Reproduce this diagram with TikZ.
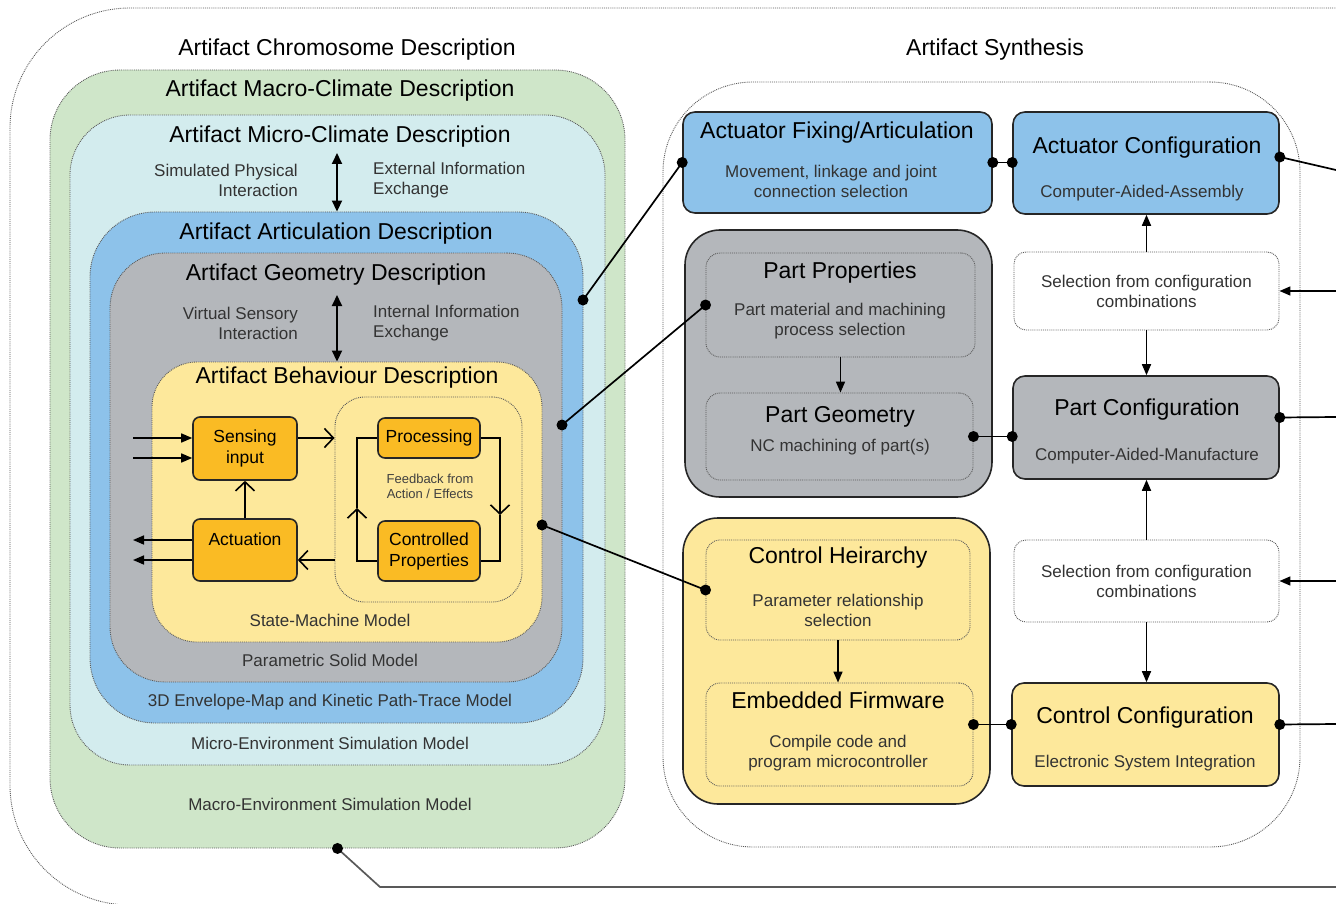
\documentclass[tikz,border=0pt]{standalone}
\usepackage{fontspec}
\setmainfont{Liberation Sans}
\usetikzlibrary{arrows.meta, calc}

\definecolor{macrogreen}{HTML}{CFE6C9}
\definecolor{microcyan}{HTML}{D3ECEE}
\definecolor{articblue}{HTML}{8DC2EA}
\definecolor{geomgrey}{HTML}{B4B7BB}
\definecolor{behavyellow}{HTML}{FDE89B}
\definecolor{stateorange}{HTML}{FABB24}

\begin{document}
\begin{tikzpicture}[x=1pt, y=-1pt,
  zone/.style={draw=black!65, densely dotted, line width=0.9pt, rounded corners=#1},
  panel/.style={draw=black!85, line width=1.6pt, rounded corners=#1},
  sz/.style 2 args={minimum width=#1, minimum height=#2, inner sep=0pt},
  headtxt/.style={font=\fontsize{23}{26}\selectfont, inner sep=0pt},
  subtxt/.style={font=\fontsize{17}{20}\selectfont, text=black!80, inner sep=0pt, align=center},
  note/.style={font=\fontsize{13}{15}\selectfont, text=black!75, inner sep=0pt, align=center},
  statebox/.style={panel=7pt, fill=stateorange, font=\fontsize{17.5}{21}\selectfont, align=center},
  wire/.style={line width=1.7pt},
  fillarr/.style={line width=1.6pt, -{Triangle[length=11pt, width=9pt]}},
  botharr/.style={line width=1.8pt, {Triangle[length=11pt, width=10pt]}-{Triangle[length=11pt, width=10pt]}},
  openarr/.style={line width=1.6pt, -{Straight Barb[length=9pt, width=19pt]}},
]
  \useasboundingbox (0,0) rectangle (1336,904);
  \clip (0,0) rectangle (1336,904);

  % Outer frames
  \draw[zone=120pt] (10,8) rectangle (1500,905);
  \node[zone=90pt, sz={637pt}{765pt}] (synth) at (981.5,464.5) {};

  % Nested descriptions
  \node[zone=70pt, fill=macrogreen, sz={575pt}{778pt}] (macro) at (337.5,459) {};
  \node[zone=60pt, fill=microcyan, sz={535pt}{650pt}] (micro) at (337.5,440) {};
  \node[zone=65pt, fill=articblue, sz={493pt}{511pt}] (artic) at (336.5,467.5) {};
  \node[zone=55pt, fill=geomgrey, sz={452pt}{429pt}] (geom) at (336,467.5) {};
  \node[zone=45pt, fill=behavyellow, sz={390pt}{280pt}] (behav) at (347,502) {};
  \node[zone=30pt, fill=behavyellow, sz={187pt}{205pt}] (fbloop) at (428.5,499.5) {};

  \node[headtxt] (chromT) at (347,50) {Artifact Chromosome Description};
  \node[headtxt] (macroT) at (340,91) {Artifact Macro-Climate Description};
  \node[headtxt] (microT) at (340,137) {Artifact Micro-Climate Description};
  \node[headtxt] (articT) at (336,234) {Artifact Articulation Description};
  \node[headtxt] (geomT) at (336,275) {Artifact Geometry Description};
  \node[headtxt] (behavT) at (347,378) {Artifact Behaviour Description};

  % Interaction labels
  \node[subtxt, align=right, anchor=east] (physL) at (298,180) {Simulated Physical\\Interaction};
  \node[subtxt, align=left, anchor=west] (extR) at (373,180) {External Information\\Exchange};
  \node[subtxt, align=right, anchor=east] (sensL) at (298,323) {Virtual Sensory\\Interaction};
  \node[subtxt, align=left, anchor=west] (intR) at (373,323) {Internal Information\\Exchange};
  \coordinate (exTop) at (337,153);
  \coordinate (inTop) at (337,295);
  \draw[botharr] (exTop) -- (exTop |- artic.north);
  \draw[botharr] (inTop) -- (inTop |- behav.north);

  % Model names
  \node[subtxt] (smM) at (330,620) {State-Machine Model};
  \node[subtxt] (psM) at (330,660) {Parametric Solid Model};
  \node[subtxt] (envM) at (330,702) {3D Envelope-Map and Kinetic Path-Trace Model};
  \node[subtxt] (microM) at (330,743) {Micro-Environment Simulation Model};
  \node[subtxt] (macroM) at (330,804) {Macro-Environment Simulation Model};

  % State machine
  \node[statebox, sz={104pt}{63pt}] (sense) at (245,448.5) {Sensing\\input};
  \node[statebox, sz={104pt}{62pt}] (actu) at (245,550) {Actuation\\\mbox{}};
  \node[statebox, sz={102pt}{40pt}] (proc) at (429,438) {Processing};
  \node[statebox, sz={102pt}{60pt}] (ctrl) at (429,551) {Controlled\\Properties};
  \node[note] (fb) at (430,486) {Feedback from\\Action / Effects};

  \coordinate (in1) at (133,438);
  \coordinate (in2) at (133,458);
  \coordinate (out1) at (133,540);
  \coordinate (out2) at (133,560);
  \draw[fillarr] (in1) -- (in1 -| sense.west);
  \draw[fillarr] (in2) -- (in2 -| sense.west);
  \draw[fillarr] (out1 -| actu.west) -- (out1);
  \draw[fillarr] (out2 -| actu.west) -- (out2);
  \draw[openarr] (in1 -| sense.east) -- (in1 -| fbloop.west);
  \draw[openarr] (out2 -| fbloop.west) -- (out2 -| actu.east);
  \draw[openarr] (actu) -- (sense);

  \coordinate (fbR) at (500,515);
  \coordinate (fbL) at (357,508);
  \draw[openarr] (proc.east) -| (fbR);
  \draw[wire] (fbR) |- ([yshift=-10pt]ctrl.east);
  \draw[openarr] ([yshift=-10pt]ctrl.west) -| (fbL);
  \draw[wire] (fbL) |- (proc.west);

  % Synthesis side
  \node[headtxt] (synthT) at (995,50) {Artifact Synthesis};

  \node[panel=12pt, fill=articblue, sz={309pt}{101pt}] (actfix) at (837.5,162.5) {};
  \node[headtxt] (actfixT) at (837,133) {Actuator Fixing/Articulation};
  \node[subtxt] (actfixS) at (831,181) {Movement, linkage and joint\\connection selection};
  \node[panel=12pt, fill=articblue, sz={266pt}{102pt}] (actconf) at (1146,163) {};
  \node[headtxt] (actconfT) at (1147,148) {Actuator Configuration};
  \node[subtxt] (actconfS) at (1142,193) {Computer-Aided-Assembly};

  \node[panel=35pt, fill=geomgrey, sz={307pt}{267pt}] (partG) at (838.5,363.5) {};
  \node[zone=14pt, sz={269pt}{104pt}] (partprop) at (840.5,305) {};
  \node[headtxt] (partpropT) at (840,273) {Part Properties};
  \node[subtxt] (partpropS) at (840,321) {Part material and machining\\process selection};
  \node[zone=14pt, sz={267pt}{87pt}] (partgeo) at (839.5,436.5) {};
  \node[headtxt] (partgeoT) at (840,417) {Part Geometry};
  \node[subtxt] (partgeoS) at (840,447) {NC machining of part(s)};
  \node[panel=12pt, fill=geomgrey, sz={266pt}{103pt}] (partconf) at (1146,427.5) {};
  \node[headtxt] (partconfT) at (1147,410) {Part Configuration};
  \node[subtxt] (partconfS) at (1147,456) {Computer-Aided-Manufacture};

  \node[panel=35pt, fill=behavyellow, sz={307pt}{286pt}] (ctrlG) at (836.5,661) {};
  \node[zone=14pt, sz={264pt}{100pt}] (ctrlh) at (838,590) {};
  \node[headtxt] (ctrlhT) at (838,558) {Control Heirarchy};
  \node[subtxt] (ctrlhS) at (838,610) {Parameter relationship\\selection};
  \node[zone=14pt, sz={267pt}{103pt}] (embfw) at (839.5,734.5) {};
  \node[headtxt] (embfwT) at (838,700) {Embedded Firmware};
  \node[subtxt] (embfwS) at (838,753) {Compile code and\\program microcontroller};
  \node[panel=12pt, fill=behavyellow, sz={267pt}{103pt}] (ctrlconf) at (1145.5,734.5) {};
  \node[headtxt] (ctrlconfT) at (1145,718) {Control Configuration};
  \node[subtxt] (ctrlconfS) at (1145,763) {Electronic System Integration};

  \node[zone=12pt, fill=white, sz={265pt}{78pt}, subtxt] (sel1) at (1146.5,291) {Selection from configuration\\combinations};
  \node[zone=12pt, fill=white, sz={265pt}{82pt}, subtxt] (sel2) at (1146.5,581) {Selection from configuration\\combinations};

  % Arrows between stages
  \draw[fillarr] (partprop.south) -- (partprop.south |- partgeo.north);
  \draw[fillarr] (ctrlh.south) -- (ctrlh.south |- embfw.north);
  \draw[fillarr] (sel1.north) -- (sel1.north |- actconf.south);
  \draw[fillarr] (sel1.south) -- (sel1.south |- partconf.north);
  \draw[fillarr] (sel2.north) -- (sel2.north |- partconf.south);
  \draw[fillarr] (sel2.south) -- (sel2.south |- ctrlconf.north);

  % Links
  \coordinate (dArt) at (583,300);
  \coordinate (dGeo) at (562,425);
  \coordinate (dBeh) at (542,525);
  \coordinate (bend) at (380,887);
  \coordinate (rBot) at (1336,887);
  \coordinate (jActR) at ([yshift=6pt]actconf.east);
  \coordinate (jPartR) at ([yshift=10pt]partconf.east);
  \coordinate (jCtrlR) at ([yshift=10pt]ctrlconf.east);
  \coordinate (jFw) at ([yshift=10pt]embfw.east);
  \coordinate (rAct) at (1336,170);
  \coordinate (rSel1) at (1336,291);
  \coordinate (rPart) at (1336,417);
  \coordinate (rSel2) at (1336,581);
  \coordinate (rCtrl) at (1336,724);

  \draw[wire] (dArt) -- (actfix.west);
  \draw[wire] (dGeo) -- (partprop.west);
  \draw[wire] (dBeh) -- (ctrlh.west);
  \draw[wire, draw=black!65] (macro.south) -- (bend) -- (rBot);
  \draw[wire] (actfix.east) -- (actfix.east -| actconf.west);
  \draw[wire] (partgeo.east) -- (partgeo.east -| partconf.west);
  \draw[wire] (jFw) -- (jFw -| ctrlconf.west);
  \draw[wire] (jActR) -- (rAct);
  \draw[wire] (jPartR) -- (rPart);
  \draw[wire] (jCtrlR) -- (rCtrl);
  \draw[fillarr] (rSel1) -- (sel1.east);
  \draw[fillarr] (rSel2) -- (sel2.east);

  % Junction dots
  \fill[black] (dArt) circle (5.5pt);
  \fill[black] (dGeo) circle (5.5pt);
  \fill[black] (dBeh) circle (5.5pt);
  \fill[black] (macro.south) circle (5.5pt);
  \fill[black] (actfix.west) circle (5.5pt);
  \fill[black] (partprop.west) circle (5.5pt);
  \fill[black] (ctrlh.west) circle (5.5pt);
  \fill[black] (actfix.east) circle (5.5pt);
  \fill[black] (actfix.east -| actconf.west) circle (5.5pt);
  \fill[black] (partgeo.east) circle (5.5pt);
  \fill[black] (partgeo.east -| partconf.west) circle (5.5pt);
  \fill[black] (jFw) circle (5.5pt);
  \fill[black] (jFw -| ctrlconf.west) circle (5.5pt);
  \fill[black] (jActR) circle (5.5pt);
  \fill[black] (jPartR) circle (5.5pt);
  \fill[black] (jCtrlR) circle (5.5pt);
\end{tikzpicture}
\end{document}
